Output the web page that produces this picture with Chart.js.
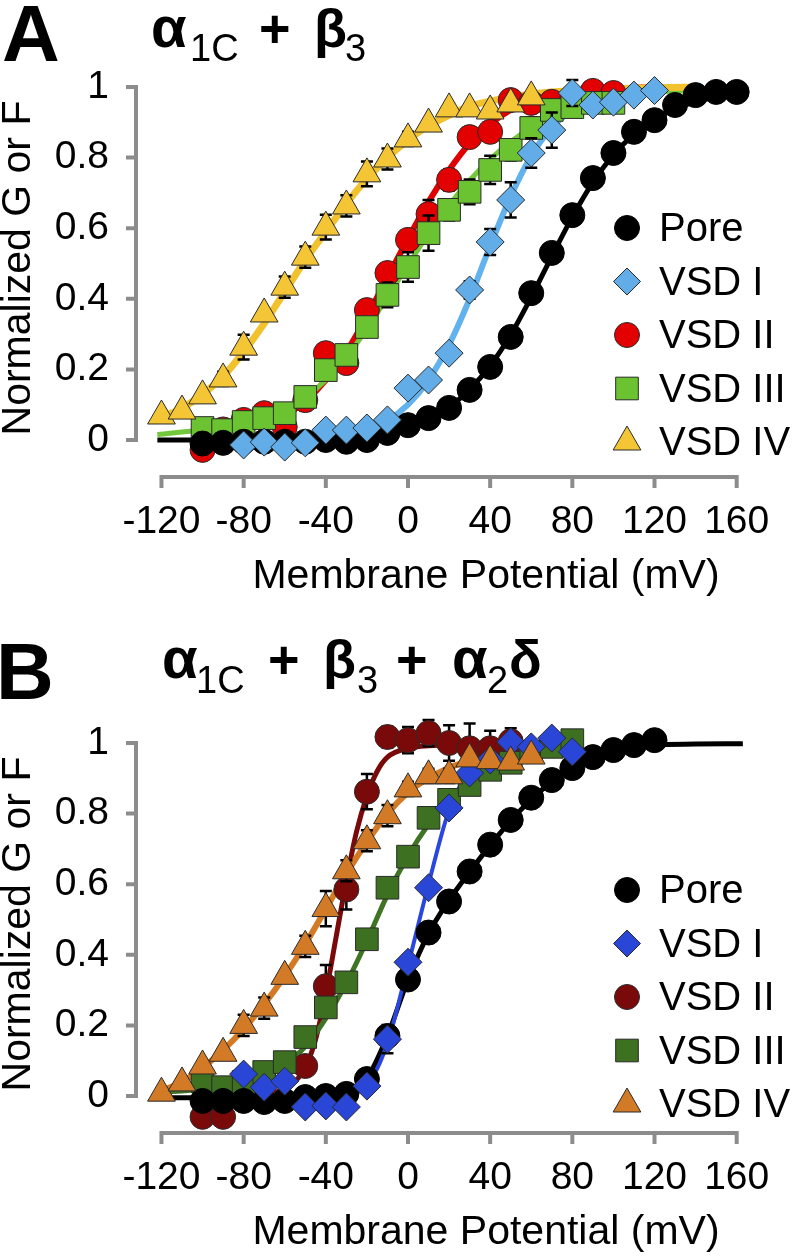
<!DOCTYPE html>
<html>
<head>
<meta charset="utf-8">
<title>Normalized G or F vs membrane potential</title>
<script src="https://cdn.jsdelivr.net/npm/chart.js@4.4.1/dist/chart.umd.min.js"></script>
<style>
  body { margin: 0; background: #fff; }
  #page { position: relative; width: 796px; height: 1260px; overflow: hidden;
          font-family: 'Liberation Sans', Arial, sans-serif; color: #000; }
  .cv { position: absolute; left: 0; }
  .t { position: absolute; line-height: 1; white-space: nowrap; }
  .big { font-size: 80px; font-weight: bold; }
  .main { font-size: 54px; font-weight: bold; }
  .sub { font-size: 38px; }
</style>
</head>
<body>
<div id="page">
  <canvas id="chartA" class="cv" width="796" height="600" style="top:0"></canvas>
  <canvas id="chartB" class="cv" width="796" height="600" style="top:656px"></canvas>

  <!-- panel A heading -->
  <span class="t big" style="left:2px;top:-6px">A</span>
  <span class="t main" style="left:151px;top:1px;font-size:58px;top:-2px">α</span>
  <span class="t sub" style="left:190px;top:29px">1C</span>
  <span class="t main" style="left:259px;top:1px">+</span>
  <span class="t main" style="left:314px;top:1px">β</span>
  <span class="t sub" style="left:345px;top:29px">3</span>

  <!-- panel B heading -->
  <span class="t big" style="left:-4px;top:632px">B</span>
  <span class="t main" style="left:162px;top:629px;font-size:58px">α</span>
  <span class="t sub" style="left:196px;top:661px">1C</span>
  <span class="t main" style="left:268px;top:632px">+</span>
  <span class="t main" style="left:323px;top:632px">β</span>
  <span class="t sub" style="left:357px;top:661px">3</span>
  <span class="t main" style="left:396px;top:632px">+</span>
  <span class="t main" style="left:452px;top:629px;font-size:58px">α</span>
  <span class="t sub" style="left:487px;top:661px">2</span>
  <span class="t main" style="left:509px;top:632px">δ</span>
</div>
<script>
const FONT = "'Liberation Sans', Arial, sans-serif";
const AXIS_GRAY = '#8c8c8c';

const xTicks = [-120, -80, -40, 0, 40, 80, 120, 160];
const yTicks = [0, 0.2, 0.4, 0.6, 0.8, 1];
const seriesNames = ['Pore', 'VSD I', 'VSD II', 'VSD III', 'VSD IV'];

// ---- panel A : a1C + b3 ----
const poreA_mV = [-100, -90, -80, -70, -60, -50, -40, -30, -20, -10, 0, 10, 20, 30, 40, 50, 60, 70, 80, 90, 100, 110, 120, 130, 140, 150, 160];
const poreA = [-0.01, -0.008, -0.005, -0.005, -0.005, -0.005, 0, -0.005, 0, 0.02, 0.042, 0.062, 0.091, 0.142, 0.207, 0.292, 0.416, 0.53, 0.637, 0.742, 0.813, 0.873, 0.906, 0.949, 0.977, 0.986, 0.986];

const vsd1A_mV = [-80, -70, -60, -50, -40, -30, -20, -10, 0, 10, 20, 30, 40, 50, 60, 70, 80, 90, 100, 110, 120];
const vsd1A = [-0.014, -0.006, -0.02, -0.008, 0.028, 0.028, 0.034, 0.057, 0.147, 0.17, 0.246, 0.425, 0.561, 0.68, 0.813, 0.878, 0.983, 0.949, 0.957, 0.977, 0.99];
const vsd1A_err = [0, 0, 0, 0, 0, 0, 0, 0, 0, 0, 0, 0.025, 0.037, 0.05, 0.042, 0.05, 0.037, 0, 0, 0, 0];

const vsd2A_mV = [-100, -90, -80, -70, -60, -50, -40, -30, -20, -10, 0, 10, 20, 30, 40, 50, 60, 70, 80, 90, 100];
const vsd2A = [-0.028, 0.03, 0.057, 0.076, 0.037, 0.113, 0.246, 0.218, 0.368, 0.473, 0.567, 0.64, 0.737, 0.858, 0.873, 0.963, 0.955, 0.958, 0.97, 0.989, 0.983];
const vsd2A_err = [0, 0, 0, 0, 0, 0.03, 0, 0, 0, 0, 0, 0.04, 0.03, 0, 0, 0, 0, 0, 0, 0, 0];

const vsd3A_mV = [-100, -90, -80, -70, -60, -50, -40, -30, -20, -10, 0, 10, 20, 30, 40, 50, 60, 70, 80, 90, 100];
const vsd3A = [0.034, 0.028, 0.051, 0.062, 0.076, 0.122, 0.198, 0.241, 0.32, 0.411, 0.49, 0.586, 0.652, 0.703, 0.765, 0.822, 0.884, 0.935, 0.943, 0.955, 0.955];
const vsd3A_err = [0, 0, 0, 0, 0, 0.02, 0, 0, 0.02, 0.035, 0.042, 0.05, 0.03, 0.035, 0.04, 0.03, 0.03, 0.02, 0.02, 0.02, 0.02];

const vsd4A_mV = [-120, -110, -100, -90, -80, -70, -60, -50, -40, -30, -20, -10, 0, 10, 20, 30, 40, 50, 60];
const vsd4A = [0.068, 0.082, 0.125, 0.173, 0.263, 0.357, 0.433, 0.518, 0.603, 0.663, 0.754, 0.796, 0.853, 0.895, 0.938, 0.938, 0.932, 0.952, 0.972];
const vsd4A_err = [0, 0, 0, 0.02, 0.035, 0, 0.03, 0.03, 0.035, 0.03, 0.035, 0.03, 0.02, 0, 0.015, 0.01, 0.01, 0, 0];

// fitted curves, panel A
const fitPoreA_mV = [-122, -60, -40, -20, -10, 0, 10, 20, 30, 40, 50, 60, 70, 80, 90, 100, 110, 120, 130, 140, 150, 160];
const fitPoreA = [0, 0, 0.004, 0.01, 0.02, 0.035, 0.058, 0.093, 0.143, 0.21, 0.298, 0.405, 0.52, 0.632, 0.73, 0.808, 0.866, 0.908, 0.938, 0.958, 0.972, 0.981];
const fitVsd1A_mV = [-80, -50, -30, -20, -10, 0, 10, 20, 30, 40, 50, 60, 70, 80, 90, 100, 120];
const fitVsd1A = [0, 0.005, 0.015, 0.03, 0.055, 0.1, 0.17, 0.27, 0.4, 0.55, 0.69, 0.805, 0.885, 0.935, 0.965, 0.98, 0.995];
const fitVsd2A_mV = [-100, -80, -60, -50, -40, -30, -20, -10, 0, 10, 20, 30, 40, 50, 60, 70, 80, 100, 120];
const fitVsd2A = [0, 0.03, 0.07, 0.11, 0.17, 0.25, 0.35, 0.46, 0.57, 0.675, 0.765, 0.84, 0.895, 0.935, 0.96, 0.975, 0.985, 0.995, 1];
const fitVsd3A_mV = [-122, -100, -80, -60, -50, -40, -30, -20, -10, 0, 10, 20, 30, 40, 50, 60, 70, 80, 100, 120, 140];
const fitVsd3A = [0.015, 0.03, 0.05, 0.085, 0.12, 0.17, 0.235, 0.315, 0.405, 0.495, 0.585, 0.665, 0.735, 0.795, 0.845, 0.885, 0.915, 0.94, 0.97, 0.985, 0.99];
const fitVsd4A_mV = [-122, -110, -100, -90, -80, -70, -60, -50, -40, -30, -20, -10, 0, 10, 20, 30, 40, 60, 80, 100, 140];
const fitVsd4A = [0.06, 0.09, 0.13, 0.18, 0.25, 0.33, 0.42, 0.51, 0.59, 0.67, 0.74, 0.8, 0.85, 0.89, 0.92, 0.945, 0.96, 0.98, 0.99, 0.995, 1];

// ---- panel B : a1C + b3 + a2d ----
const poreB_mV = [-100, -90, -80, -70, -60, -50, -40, -30, -20, -10, 0, 10, 20, 30, 40, 50, 60, 70, 80, 90, 100, 110, 120];
const poreB = [-0.014, -0.014, -0.014, -0.017, -0.014, -0.003, 0, 0.006, 0.048, 0.17, 0.33, 0.463, 0.551, 0.636, 0.712, 0.782, 0.845, 0.895, 0.929, 0.96, 0.98, 0.994, 1.008];

const vsd1B_mV = [-80, -70, -60, -50, -40, -30, -20, -10, 0, 10, 20, 30, 40, 50, 60, 70, 80];
const vsd1B = [0.062, 0.025, 0.042, -0.031, -0.028, -0.031, 0.028, 0.161, 0.379, 0.59, 0.816, 0.915, 0.952, 1.003, 0.989, 1.014, 0.975];
const vsd1B_err = [0, 0, 0, 0, 0, 0, 0, 0.04, 0, 0, 0, 0, 0, 0, 0, 0, 0];

const vsd2B_mV = [-100, -90, -50, -40, -30, -20, -10, 0, 10, 20, 30, 40, 50];
const vsd2B = [-0.059, -0.059, 0.085, 0.311, 0.585, 0.862, 1.017, 1.008, 1.028, 1.0, 0.985, 0.985, 1.005];
const vsd2B_err = [0, 0, 0, 0.06, 0.057, 0.05, 0.03, 0.037, 0.037, 0.05, 0.07, 0.05, 0.037];

const vsd3B_mV = [-100, -90, -80, -70, -60, -50, -40, -30, -20, -10, 0, 10, 20, 30, 40, 50, 60, 70, 80];
const vsd3B = [0.042, 0.025, 0.04, 0.068, 0.096, 0.167, 0.251, 0.322, 0.444, 0.59, 0.678, 0.788, 0.839, 0.881, 0.924, 0.944, 0.975, 0.989, 1.008];
const vsd3B_err = [0, 0, 0, 0, 0, 0, 0, 0, 0, 0, 0.025, 0.02, 0.02, 0.02, 0.025, 0, 0, 0, 0];

const vsd4B_mV = [-120, -110, -100, -90, -80, -70, -60, -50, -40, -30, -20, -10, 0, 10, 20, 30, 40, 50, 60];
const vsd4B = [0.008, 0.037, 0.085, 0.121, 0.2, 0.249, 0.339, 0.424, 0.531, 0.638, 0.723, 0.794, 0.87, 0.907, 0.907, 0.955, 0.95, 0.946, 0.963];
const vsd4B_err = [0, 0, 0, 0, 0.03, 0.03, 0, 0.03, 0.05, 0.03, 0.03, 0.03, 0.02, 0.02, 0.02, 0, 0, 0, 0];

// fitted curves, panel B
const fitPoreB_mV = [-122, -50, -40, -30, -20, -10, 0, 10, 20, 30, 40, 50, 60, 70, 80, 90, 100, 110, 120, 140, 163];
const fitPoreB = [-0.005, -0.003, 0, 0.008, 0.05, 0.17, 0.33, 0.46, 0.555, 0.635, 0.71, 0.78, 0.84, 0.89, 0.93, 0.958, 0.978, 0.99, 0.995, 0.997, 0.998];
const fitVsd1B_mV = [-80, -40, -30, -20, -10, 0, 10, 20, 30, 40, 50, 60, 80];
const fitVsd1B = [0, 0, 0.005, 0.03, 0.15, 0.37, 0.6, 0.81, 0.92, 0.965, 0.985, 0.993, 0.998];
const fitVsd2B_mV = [-100, -70, -60, -55, -50, -45, -40, -35, -30, -25, -20, -15, -10, 0, 20, 50];
const fitVsd2B = [0, 0.005, 0.02, 0.04, 0.08, 0.16, 0.29, 0.45, 0.61, 0.75, 0.85, 0.92, 0.96, 0.985, 0.995, 1];
const fitVsd3B_mV = [-122, -100, -80, -70, -60, -50, -40, -30, -20, -10, 0, 10, 20, 30, 40, 50, 60, 80];
const fitVsd3B = [0.01, 0.02, 0.04, 0.06, 0.09, 0.14, 0.22, 0.32, 0.44, 0.57, 0.68, 0.77, 0.84, 0.89, 0.93, 0.955, 0.97, 0.985];
const fitVsd4B_mV = [-122, -110, -100, -90, -80, -70, -60, -50, -40, -30, -20, -10, 0, 10, 20, 30, 40, 60, 80];
const fitVsd4B = [0.01, 0.04, 0.08, 0.13, 0.19, 0.26, 0.34, 0.43, 0.53, 0.63, 0.72, 0.8, 0.86, 0.9, 0.93, 0.95, 0.965, 0.98, 0.99];

function pts (xs, ys) {
  return xs.map((x, i) => ({x: x, y: ys[i]}));
}

// one marker series; rank = position in legend, order = draw order (low on top)
function marks (rank, xs, ys, errs, style, radius, legendRadius, fill, order) {
  return {
    label: seriesNames[rank],
    rank: rank,
    data: pts(xs, ys),
    errors: errs,
    showLine: false,
    pointStyle: style,
    pointRadius: radius,
    pointHoverRadius: radius,
    legendRadius: legendRadius,
    pointBackgroundColor: fill,
    pointBorderColor: fill === '#000000' ? '#000000' : '#2a2a2a',
    pointBorderWidth: 1,
    order: order,
    clip: false
  };
}

function fit (xs, ys, color, width) {
  return {
    label: '',
    isFit: true,
    data: pts(xs, ys),
    showLine: true,
    pointRadius: 0,
    borderColor: color,
    borderWidth: width,
    cubicInterpolationMode: 'monotone',
    order: 20,
    clip: false
  };
}

// gray L-shaped axes with outside ticks, x axis detached below the y range
const grayAxes = {
  id: 'grayAxes',
  beforeDatasetsDraw (chart) {
    const {ctx, chartArea} = chart;
    const x = chart.scales.x, y = chart.scales.y;
    ctx.save();
    ctx.strokeStyle = AXIS_GRAY;
    ctx.lineWidth = 4;
    ctx.lineJoin = 'miter';
    const yb = chartArea.bottom;
    const x0 = x.getPixelForValue(xTicks[0]);
    const x1 = x.getPixelForValue(xTicks[xTicks.length - 1]);
    ctx.beginPath();
    ctx.moveTo(x0, yb + 11);
    ctx.lineTo(x0, yb);
    ctx.lineTo(x1, yb);
    ctx.lineTo(x1, yb + 11);
    xTicks.slice(1, -1).forEach(v => {
      const px = x.getPixelForValue(v);
      ctx.moveTo(px, yb);
      ctx.lineTo(px, yb + 11);
    });
    ctx.stroke();

    const xl = chartArea.left;
    const y0 = y.getPixelForValue(yTicks[0]);
    const y1 = y.getPixelForValue(yTicks[yTicks.length - 1]);
    ctx.beginPath();
    ctx.moveTo(xl - 10, y1);
    ctx.lineTo(xl, y1);
    ctx.lineTo(xl, y0);
    ctx.lineTo(xl - 10, y0);
    yTicks.slice(1, -1).forEach(v => {
      const py = y.getPixelForValue(v);
      ctx.moveTo(xl, py);
      ctx.lineTo(xl - 10, py);
    });
    ctx.stroke();
    ctx.restore();
  }
};

const errorBars = {
  id: 'errorBars',
  beforeDatasetDraw (chart, args) {
    const ds = chart.data.datasets[args.index];
    if (!ds.errors) return;
    const ctx = chart.ctx, y = chart.scales.y;
    ctx.save();
    ctx.strokeStyle = '#000';
    ctx.lineWidth = 2.5;
    args.meta.data.forEach((pt, i) => {
      const e = ds.errors[i];
      if (!e) return;
      const v = ds.data[i].y;
      const top = y.getPixelForValue(v + e), bot = y.getPixelForValue(v - e);
      ctx.beginPath();
      ctx.moveTo(pt.x, top); ctx.lineTo(pt.x, bot);
      ctx.moveTo(pt.x - 6, top); ctx.lineTo(pt.x + 6, top);
      ctx.moveTo(pt.x - 6, bot); ctx.lineTo(pt.x + 6, bot);
      ctx.stroke();
    });
    ctx.restore();
  }
};

const panelLegend = {
  id: 'panelLegend',
  afterDraw (chart, args, opts) {
    const ctx = chart.ctx;
    const items = chart.data.datasets.filter(d => !d.isFit).sort((a, b) => a.rank - b.rank);
    ctx.save();
    ctx.font = '40px ' + FONT;
    ctx.textBaseline = 'middle';
    ctx.textAlign = 'left';
    items.forEach((d, i) => {
      const yy = opts.top + i * opts.step;
      ctx.fillStyle = d.pointBackgroundColor;
      ctx.strokeStyle = d.pointBorderColor;
      ctx.lineWidth = 1;
      Chart.helpers.drawPoint(ctx, {pointStyle: d.pointStyle, radius: d.legendRadius, rotation: 0, borderWidth: 1}, opts.markX, yy);
      ctx.fillStyle = '#000';
      ctx.fillText(d.label, opts.textX, yy + 2);
    });
    ctx.restore();
  }
};

const xTitle = {
  id: 'xTitle',
  afterDraw (chart, args, opts) {
    const ctx = chart.ctx;
    ctx.save();
    ctx.font = '41px ' + FONT;
    ctx.fillStyle = '#000';
    ctx.textAlign = 'center';
    ctx.textBaseline = 'middle';
    ctx.fillText(opts.text, opts.x, opts.y);
    ctx.restore();
  }
};

function makePanel (id, datasets, legendTop) {
  return new Chart(document.getElementById(id), {
    type: 'scatter',
    data: {datasets: datasets},
    plugins: [grayAxes, errorBars, panelLegend, xTitle],
    options: {
      responsive: false,
      animation: false,
      devicePixelRatio: 1,
      layout: {padding: {top: 59, right: 6, bottom: 0, left: 0}},
      plugins: {
        legend: {display: false},
        tooltip: {enabled: false},
        panelLegend: {top: legendTop, step: 53.5, markX: 627, textX: 659},
        xTitle: {text: 'Membrane Potential (mV)', x: 486, y: 577}
      },
      scales: {
        x: {
          type: 'linear',
          min: -132.4,
          max: 180.6,
          grid: {display: false, drawTicks: false},
          border: {display: false},
          afterBuildTicks: s => { s.ticks = xTicks.map(v => ({value: v})); },
          afterFit: s => { s.height = 123; },
          ticks: {
            font: {family: FONT, size: 39},
            color: '#000',
            padding: 22,
            maxRotation: 0,
            autoSkip: false,
            callback: v => String(v)
          }
        },
        y: {
          min: -0.1048,
          max: 1.0793,
          grid: {display: false, drawTicks: false},
          border: {display: false},
          afterBuildTicks: s => { s.ticks = yTicks.map(v => ({value: v})); },
          afterFit: s => { s.width = 136; },
          ticks: {
            font: {family: FONT, size: 39},
            color: '#000',
            padding: 27,
            autoSkip: false,
            callback: v => String(v)
          },
          title: {
            display: true,
            text: 'Normalized G or F',
            font: {family: FONT, size: 41, lineHeight: 0.9},
            color: '#000',
            padding: 0
          }
        }
      }
    }
  });
}

makePanel('chartA', [
  marks(0, poreA_mV, poreA, null, 'circle', 12.5, 12.5, '#000000', 3),
  marks(1, vsd1A_mV, vsd1A, vsd1A_err, 'rectRot', 14, 13.5, '#62ade7', 2),
  marks(2, vsd2A_mV, vsd2A, vsd2A_err, 'circle', 12.5, 12.5, '#e20000', 5),
  marks(3, vsd3A_mV, vsd3A, vsd3A_err, 'rect', 16, 16, '#6cc331', 4),
  marks(4, vsd4A_mV, vsd4A, vsd4A_err, 'triangle', 16, 16, '#f4c636', 1),
  fit(fitVsd4A_mV, fitVsd4A, '#f2c22e', 7),
  fit(fitVsd3A_mV, fitVsd3A, '#72c83a', 5),
  fit(fitVsd2A_mV, fitVsd2A, '#e00000', 6),
  fit(fitVsd1A_mV, fitVsd1A, '#62b2ee', 6),
  fit(fitPoreA_mV, fitPoreA, '#000000', 5)
], 228);

makePanel('chartB', [
  marks(0, poreB_mV, poreB, null, 'circle', 12.5, 12.5, '#000000', 3),
  marks(1, vsd1B_mV, vsd1B, vsd1B_err, 'rectRot', 14, 13.5, '#2a46d6', 2),
  marks(2, vsd2B_mV, vsd2B, vsd2B_err, 'circle', 12.5, 12.5, '#7a0a0a', 5),
  marks(3, vsd3B_mV, vsd3B, vsd3B_err, 'rect', 16, 16, '#3d7020', 4),
  marks(4, vsd4B_mV, vsd4B, vsd4B_err, 'triangle', 16, 16, '#d27a26', 1),
  fit(fitVsd4B_mV, fitVsd4B, '#d47a24', 6),
  fit(fitVsd3B_mV, fitVsd3B, '#3f7424', 5),
  fit(fitVsd2B_mV, fitVsd2B, '#7a0a0a', 5),
  fit(fitVsd1B_mV, fitVsd1B, '#2a46e0', 4),
  fit(fitPoreB_mV, fitPoreB, '#000000', 5)
], 234);
</script>
</body>
</html>
